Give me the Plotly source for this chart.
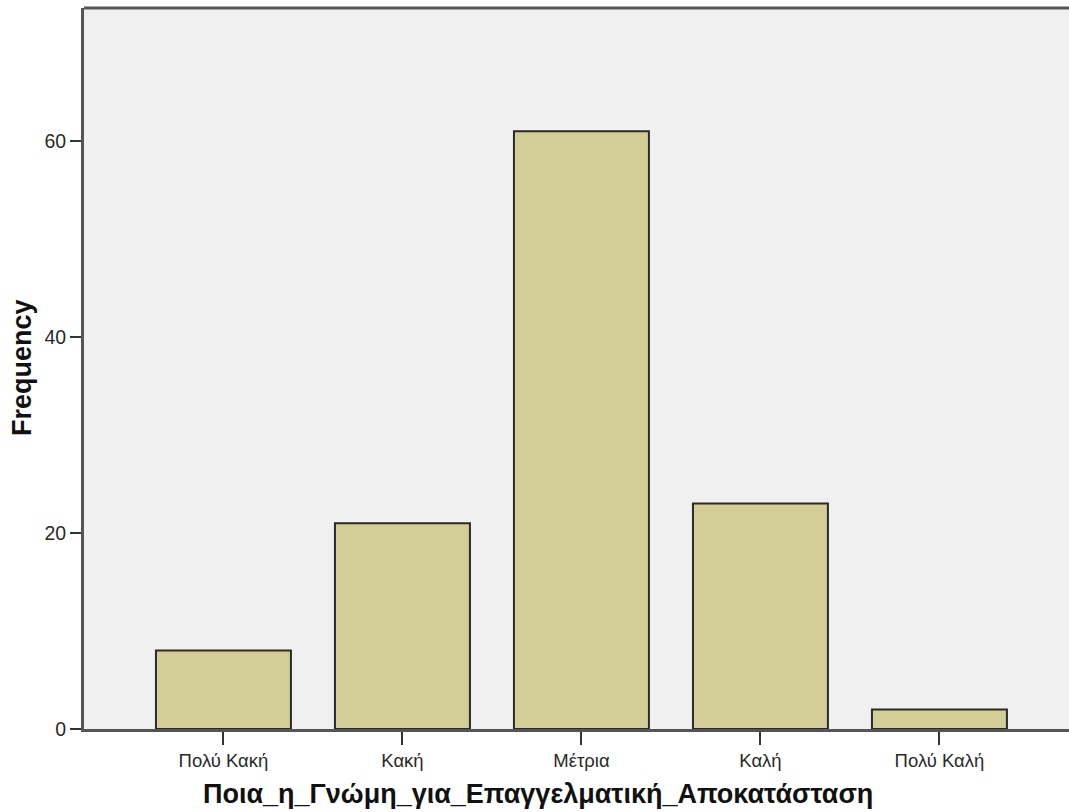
import plotly.graph_objects as go

categories = ["Πολύ Κακή", "Κακή", "Μέτρια", "Καλή", "Πολύ Καλή"]
frequencies = [8, 21, 61, 23, 2]
y_ticks = [0, 20, 40, 60]

W, H = 1069, 812
L, R, T = 84, 0, 8
B = H - 729
pw = W - L - R
ph = H - T - B


def px_x(page_x):
    return (page_x - L) / pw


def px_y(page_y):
    return (729 - page_y) / ph


fig = go.Figure()
fig.add_trace(go.Bar(
    x=list(range(len(categories))),
    y=frequencies,
    width=0.754,
    marker=dict(color="#d3ce97", line=dict(color="#2a2a2a", width=2)),
    hoverinfo="y",
))

fig.update_layout(
    width=W, height=H,
    margin=dict(l=L, r=R, t=T, b=B),
    paper_bgcolor="white",
    plot_bgcolor="#f0f0f0",
    showlegend=False,
    font=dict(family="Liberation Sans, Arial, sans-serif", size=18, color="#333333"),
    xaxis=dict(
        range=[-0.779, -0.779 + pw / 179.0],
        tickmode="array",
        tickvals=list(range(len(categories))),
        ticktext=categories,
        ticks="outside", ticklen=13, tickwidth=2, tickcolor="#333333",
        showgrid=False, zeroline=False,
        showline=True, linecolor="#555555", linewidth=3,
        tickfont=dict(size=18.5, color="#2a2a2a"),
        fixedrange=True,
    ),
    yaxis=dict(
        range=[0, 73.57],
        tickmode="array",
        tickvals=y_ticks,
        ticktext=[str(v) for v in y_ticks],
        ticks="outside", ticklen=11, tickwidth=2, tickcolor="#333333",
        showgrid=False, zeroline=False,
        showline=True, linecolor="#555555", linewidth=3,
        tickfont=dict(size=19.5, color="#2a2a2a"),
        fixedrange=True,
    ),
)

# top border of the plot frame
fig.add_shape(type="line", xref="paper", yref="paper", x0=0, x1=1, y0=1, y1=1,
              line=dict(color="#555555", width=3))

fig.add_annotation(
    text="<b>Ποια_η_Γνώμη_για_Επαγγελματική_Αποκατάσταση</b>",
    xref="paper", yref="paper",
    x=px_x(538), y=px_y(794),
    xanchor="center", yanchor="middle", showarrow=False,
    font=dict(size=27, color="#111111", family="Liberation Sans, Arial, sans-serif"),
)
fig.add_annotation(
    text="<b>Frequency</b>",
    xref="paper", yref="paper",
    x=px_x(22), y=px_y(368),
    xanchor="center", yanchor="middle", textangle=-90, showarrow=False,
    font=dict(size=27, color="#111111", family="Liberation Sans, Arial, sans-serif"),
)

fig.write_html(
    "out.html",
    config={"displayModeBar": False},
    post_script="document.body.style.margin='0';document.body.style.overflow='hidden';",
)
